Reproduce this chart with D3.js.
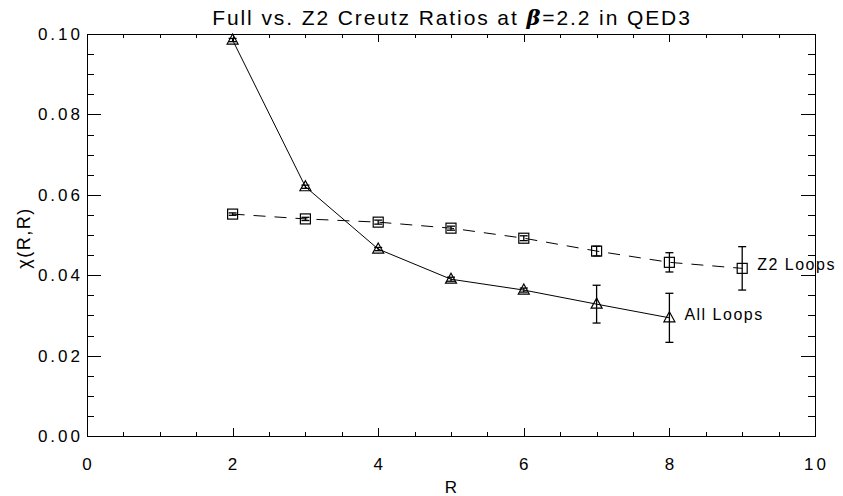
<!DOCTYPE html>
<html><head><meta charset="utf-8">
<script src="https://cdn.jsdelivr.net/npm/d3@7"></script>
<style>
body{margin:0;background:#fff;}
text{font-family:"Liberation Sans",Arial,sans-serif;fill:#000;}
</style></head>
<body><svg id="c" width="843" height="496"></svg>
<script>
const allR = [2,3,4,5,6,7,8];
const allVal = [0.0985,0.0620,0.0465,0.0390,0.0363,0.0328,0.0294];
const allErr = [0.0004,0.0004,0.0004,0.0005,0.0005,0.0047,0.0061];
const z2R = [2,3,4,5,6,7,8,9];
const z2Val = [0.0552,0.0540,0.0532,0.0517,0.0492,0.0460,0.0432,0.0417];
const z2Err = [0.0003,0.0004,0.0005,0.0005,0.0006,0.0012,0.0024,0.0054];
const xTicks = [0,2,4,6,8,10];
const yTicks = [0,0.02,0.04,0.06,0.08,0.10];
const titleText = "Full vs. Z2 Creutz Ratios at ";
const xLabel = "R", yLabel = "χ(R,R)";

const svg = d3.select("#c");
const L=87,R=815,T=34,B=436;
const x = d3.scaleLinear().domain([0,10]).range([L,R]);
const y = d3.scaleLinear().domain([0,0.10]).range([B,T]);
const g = svg.append("g");

g.append("rect").attr("x",L+0.5).attr("y",T+0.5).attr("width",R-L).attr("height",B-T)
 .attr("fill","none").attr("stroke","#000").attr("stroke-width",1);

const xMinor = d3.range(0,10.001,0.5);
const yMinor = d3.range(0,0.1001,0.005);
function isMajX(v){return Math.abs(v/2-Math.round(v/2))<1e-6;}
function isMajY(v){return Math.abs(v/0.02-Math.round(v/0.02))<1e-6;}
xMinor.forEach(v=>{const len=isMajX(v)?8:4;const px=Math.round(x(v))+0.5;
 g.append("line").attr("x1",px).attr("x2",px).attr("y1",B).attr("y2",B-len).attr("stroke","#000");
 g.append("line").attr("x1",px).attr("x2",px).attr("y1",T).attr("y2",T+len).attr("stroke","#000");});
yMinor.forEach(v=>{const len=isMajY(v)?14:7;const py=Math.round(y(v))+0.5;
 g.append("line").attr("x1",L).attr("x2",L+len).attr("y1",py).attr("y2",py).attr("stroke","#000");
 g.append("line").attr("x1",R).attr("x2",R-len).attr("y1",py).attr("y2",py).attr("stroke","#000");});

const fs=17, ls="3px";
xTicks.forEach(v=>g.append("text").attr("x",x(v)+1.5).attr("y",470).attr("text-anchor","middle")
 .attr("font-size",fs).attr("letter-spacing",ls).text(d3.format("d")(v)));
yTicks.forEach(v=>g.append("text").attr("x",83).attr("y",y(v)+6).attr("text-anchor","end")
 .attr("font-size",fs).attr("letter-spacing",ls).text(d3.format(".2f")(v)));
g.append("text").attr("x",x(5)).attr("y",493).attr("text-anchor","middle").attr("font-size",fs).text(xLabel);
g.append("text").attr("transform","translate(30,238) rotate(-90)").attr("text-anchor","middle")
 .attr("font-size",18).attr("letter-spacing","1.5px").text(yLabel);

const t = g.append("text").attr("x",x(5)+1).attr("y",25).attr("text-anchor","middle").attr("font-size",21).attr("letter-spacing","1.9px");
t.append("tspan").text(titleText);
t.append("tspan").attr("font-weight","bold").attr("font-style","italic").attr("font-family","DejaVu Serif").text("β");
t.append("tspan").text("=2.2 in QED3");

function series(Rs,vals,errs,dash,marker){
  const pts = Rs.map((r,i)=>({r,v:vals[i],e:errs[i]}));
  g.append("path").datum(pts).attr("fill","none").attr("stroke","#000").attr("stroke-width",1)
   .attr("stroke-dasharray",dash).attr("d",d3.line().x(d=>x(d.r)).y(d=>y(d.v)));
  pts.forEach(d=>{
    const cx=x(d.r), cy=y(d.v), y1=y(d.v+d.e), y2=y(d.v-d.e);
    g.append("line").attr("x1",cx).attr("x2",cx).attr("y1",y1).attr("y2",y2).attr("stroke","#000").attr("stroke-width",1.3);
    [y1,y2].forEach(yy=>g.append("line").attr("x1",cx-4).attr("x2",cx+4).attr("y1",yy).attr("y2",yy).attr("stroke","#000").attr("stroke-width",1.3));
    if(marker==="sq"){
      g.append("rect").attr("x",cx-5).attr("y",cy-5).attr("width",10).attr("height",10).attr("fill","none").attr("stroke","#000").attr("stroke-width",1.2);
    } else {
      g.append("path").attr("d",`M${cx},${cy-6}L${cx+5.5},${cy+4}L${cx-5.5},${cy+4}Z`).attr("fill","none").attr("stroke","#000").attr("stroke-width",1.2);
    }
  });
}
series(allR,allVal,allErr,null,"tri");
series(z2R,z2Val,z2Err,"12,9","sq");

g.append("text").attr("x",x(9)+15).attr("y",270).attr("font-size",16).attr("letter-spacing","1.5px").text("Z2 Loops");
g.append("text").attr("x",x(8)+15).attr("y",320).attr("font-size",16).attr("letter-spacing","1.5px").text("All Loops");
</script></body></html>
